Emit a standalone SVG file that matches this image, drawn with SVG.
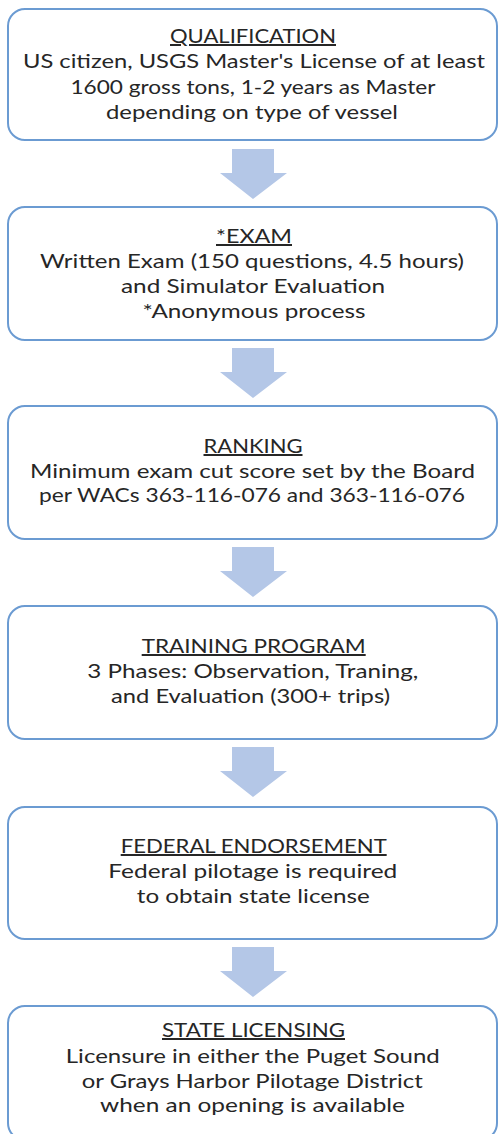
<svg xmlns="http://www.w3.org/2000/svg" width="499" height="1134" viewBox="0 0 499 1134">
<style>
.box{fill:#ffffff;stroke:#6b9bd2;stroke-width:2}
.arr{fill:#b4c7e7}
text{font-family:Lato,"Open Sans","Liberation Sans",sans-serif;font-size:20px;fill:#262626;text-anchor:middle}
.t{text-decoration:underline}
</style>
<rect width="499" height="1134" fill="#ffffff"/>
<g id="connectors">
<polygon class="arr" points="232,149 274,149 274,173 287,173 253,199 220,173 232,173"/>
<polygon class="arr" points="232,348 274,348 274,372 287,372 253,398 220,372 232,372"/>
<polygon class="arr" points="232,547 274,547 274,571 287,571 253,597 220,571 232,571"/>
<polygon class="arr" points="232,747 274,747 274,771 287,771 253,797 220,771 232,771"/>
<polygon class="arr" points="232,947 274,947 274,971 287,971 253,997 220,971 232,971"/>
</g>
<g id="qualification">
<rect class="box" x="8" y="9" width="489" height="131" rx="17"/>
<text class="t" x="253" y="43" textLength="166" lengthAdjust="spacingAndGlyphs">QUALIFICATION</text>
<text x="254" y="68" textLength="462" lengthAdjust="spacingAndGlyphs">US citizen, USGS Master's License of at least</text>
<text x="253" y="94" textLength="365" lengthAdjust="spacingAndGlyphs">1600 gross tons, 1-2 years as Master</text>
<text x="252" y="119" textLength="292" lengthAdjust="spacingAndGlyphs">depending on type of vessel</text>
</g>
<g id="exam">
<rect class="box" x="8" y="207" width="489" height="133" rx="17"/>
<text class="t" x="254" y="243" textLength="76" lengthAdjust="spacingAndGlyphs">*EXAM</text>
<text x="252" y="268" textLength="424" lengthAdjust="spacingAndGlyphs">Written Exam (150 questions, 4.5 hours)</text>
<text x="253" y="293" textLength="264" lengthAdjust="spacingAndGlyphs">and Simulator Evaluation</text>
<text x="254" y="318" textLength="223" lengthAdjust="spacingAndGlyphs">*Anonymous process</text>
</g>
<g id="ranking">
<rect class="box" x="8" y="406" width="489" height="133" rx="17"/>
<text class="t" x="253" y="453" textLength="99" lengthAdjust="spacingAndGlyphs">RANKING</text>
<text x="252.5" y="478" textLength="445" lengthAdjust="spacingAndGlyphs">Minimum exam cut score set by the Board</text>
<text x="252" y="502" textLength="426" lengthAdjust="spacingAndGlyphs">per WACs 363-116-076 and 363-116-076</text>
</g>
<g id="training">
<rect class="box" x="8" y="606" width="489" height="133" rx="17"/>
<text class="t" x="253.7" y="653" textLength="224" lengthAdjust="spacingAndGlyphs">TRAINING PROGRAM</text>
<text x="252.8" y="678" textLength="331" lengthAdjust="spacingAndGlyphs">3 Phases: Observation, Traning,</text>
<text x="250.5" y="703" textLength="279" lengthAdjust="spacingAndGlyphs">and Evaluation (300+ trips)</text>
</g>
<g id="federal">
<rect class="box" x="8" y="807" width="489" height="132" rx="17"/>
<text class="t" x="253.7" y="853" textLength="266" lengthAdjust="spacingAndGlyphs">FEDERAL ENDORSEMENT</text>
<text x="252.8" y="878" textLength="289" lengthAdjust="spacingAndGlyphs">Federal pilotage is required</text>
<text x="253.3" y="903" textLength="233" lengthAdjust="spacingAndGlyphs">to obtain state license</text>
</g>
<g id="state-licensing">
<rect class="box" x="8" y="1006" width="489" height="134" rx="17"/>
<text class="t" x="253.5" y="1037" textLength="183" lengthAdjust="spacingAndGlyphs">STATE LICENSING</text>
<text x="252.8" y="1063" textLength="374" lengthAdjust="spacingAndGlyphs">Licensure in either the Puget Sound</text>
<text x="252.3" y="1088" textLength="341" lengthAdjust="spacingAndGlyphs">or Grays Harbor Pilotage District</text>
<text x="252.5" y="1112" textLength="305" lengthAdjust="spacingAndGlyphs">when an opening is available</text>
</g>
</svg>
